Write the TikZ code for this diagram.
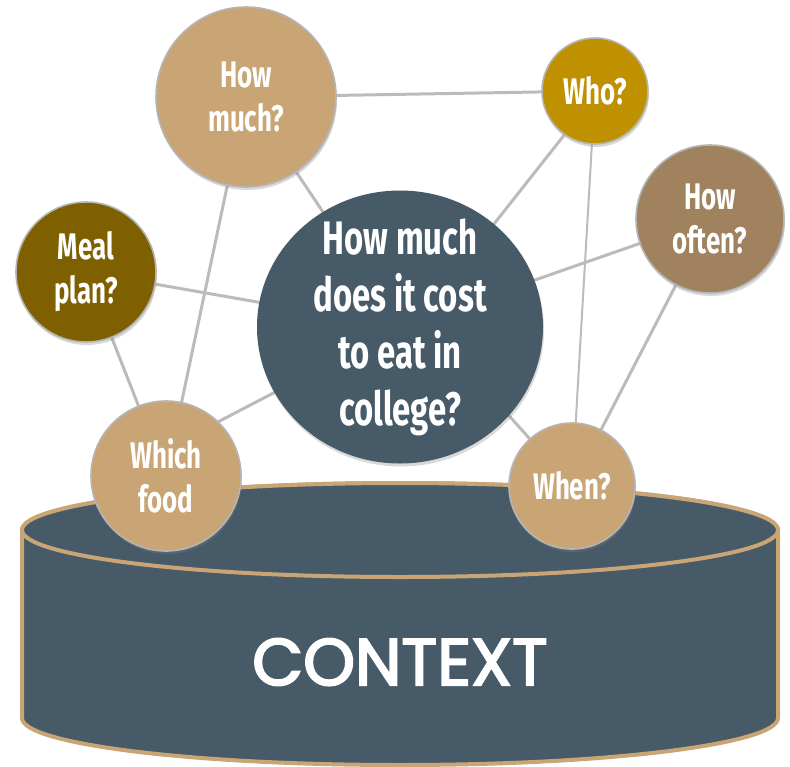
\documentclass[tikz,border=0pt]{standalone}
\usepackage{fontspec}
\setmainfont{Fira Sans}[FakeStretch=0.70]
\newfontfamily\ctxfont{Poppins}[FakeBold=3]
\usetikzlibrary{shadows,shapes.geometric}
\definecolor{slate}{HTML}{465A67}
\definecolor{tanc}{HTML}{C9A575}
\definecolor{goldc}{HTML}{BF9000}
\definecolor{brownc}{HTML}{A0825E}
\definecolor{olivec}{HTML}{7F6000}
\definecolor{lgray}{HTML}{BBBBBB}
\definecolor{rimgray}{HTML}{B5B5B5}
\pgfdeclarelayer{bg}
\pgfsetlayers{bg,main}
\tikzset{
  bub/.style={circle, inner sep=0pt, draw=rimgray, line width=1.6pt, text=white,
    align=center, font=\bfseries\fontsize{37}{44}\selectfont,
    drop shadow={opacity=0.3, shadow xshift=1pt, shadow yshift=-3pt}},
  conn/.style={draw=lgray, line width=3pt},
  txt/.style={text=white, align=center, inner sep=0pt}
}
\begin{document}
\begin{tikzpicture}[x=1pt,y=-1pt]
\useasboundingbox (0,0) rectangle (790,766);
% cylinder
\begin{pgfonlayer}{bg}
\path[fill=slate, draw=tanc, line width=4pt, line join=round]
  (22,530) -- (22,718) arc[start angle=180, end angle=360, x radius=378, y radius=-47]
  -- (778,530) arc[start angle=0, end angle=180, x radius=378, y radius=-47] -- cycle;
\draw[draw=tanc, line width=4pt, fill=slate] (400,530) ellipse[x radius=378, y radius=47];
\end{pgfonlayer}
\node[txt, font=\ctxfont\fontsize{66}{66}\selectfont] (ctx) at (400,662) {CONTEXT};

% central
\node[ellipse, minimum width=286pt, minimum height=273pt, fill=slate, inner sep=0pt,
  drop shadow={opacity=0.3, shadow xshift=1pt, shadow yshift=-3pt}] (main) at (400,327) {};
\node[txt, font=\bfseries\fontsize{47}{57}\selectfont] (mainq) at (main.center) {How much\\does it cost\\to eat in\\college?};

\node[bub, fill=tanc, minimum size=180pt] (hm) at (246,97) {How\\much?};
\node[bub, fill=goldc, minimum size=106pt] (who) at (595,91) {Who?};
\node[bub, fill=brownc, minimum size=148pt] (often) at (710,219) {How\\often?};
\node[bub, fill=olivec, minimum size=140pt] (meal) at (86,272) {Meal\\plan?};
\node[bub, fill=tanc, minimum size=150pt] (which) at (166,476) {Which\\food};
\node[bub, fill=tanc, minimum size=126pt] (when) at (572,486) {When?};

\begin{pgfonlayer}{bg}
\draw[conn] (hm.center) -- (who.center);
\draw[conn] (hm.center) -- (main.center);
\draw[conn] ([xshift=4pt]who.center) -- ([yshift=-16pt]main.center);
\draw[conn, line width=2pt] (who.center) -- (when.center);
\draw[conn] (often.center) -- (main.center);
\draw[conn] (often.center) -- (when.center);
\draw[conn] (meal.center) -- (main.center);
\draw[conn] (meal.center) -- (which.center);
\draw[conn] (hm.center) -- (which.center);
\draw[conn] ([yshift=27pt]which.center) -- (main.center);
\draw[conn] ([yshift=33pt]main.center) -- (when.center);
\end{pgfonlayer}
\end{tikzpicture}
\end{document}
